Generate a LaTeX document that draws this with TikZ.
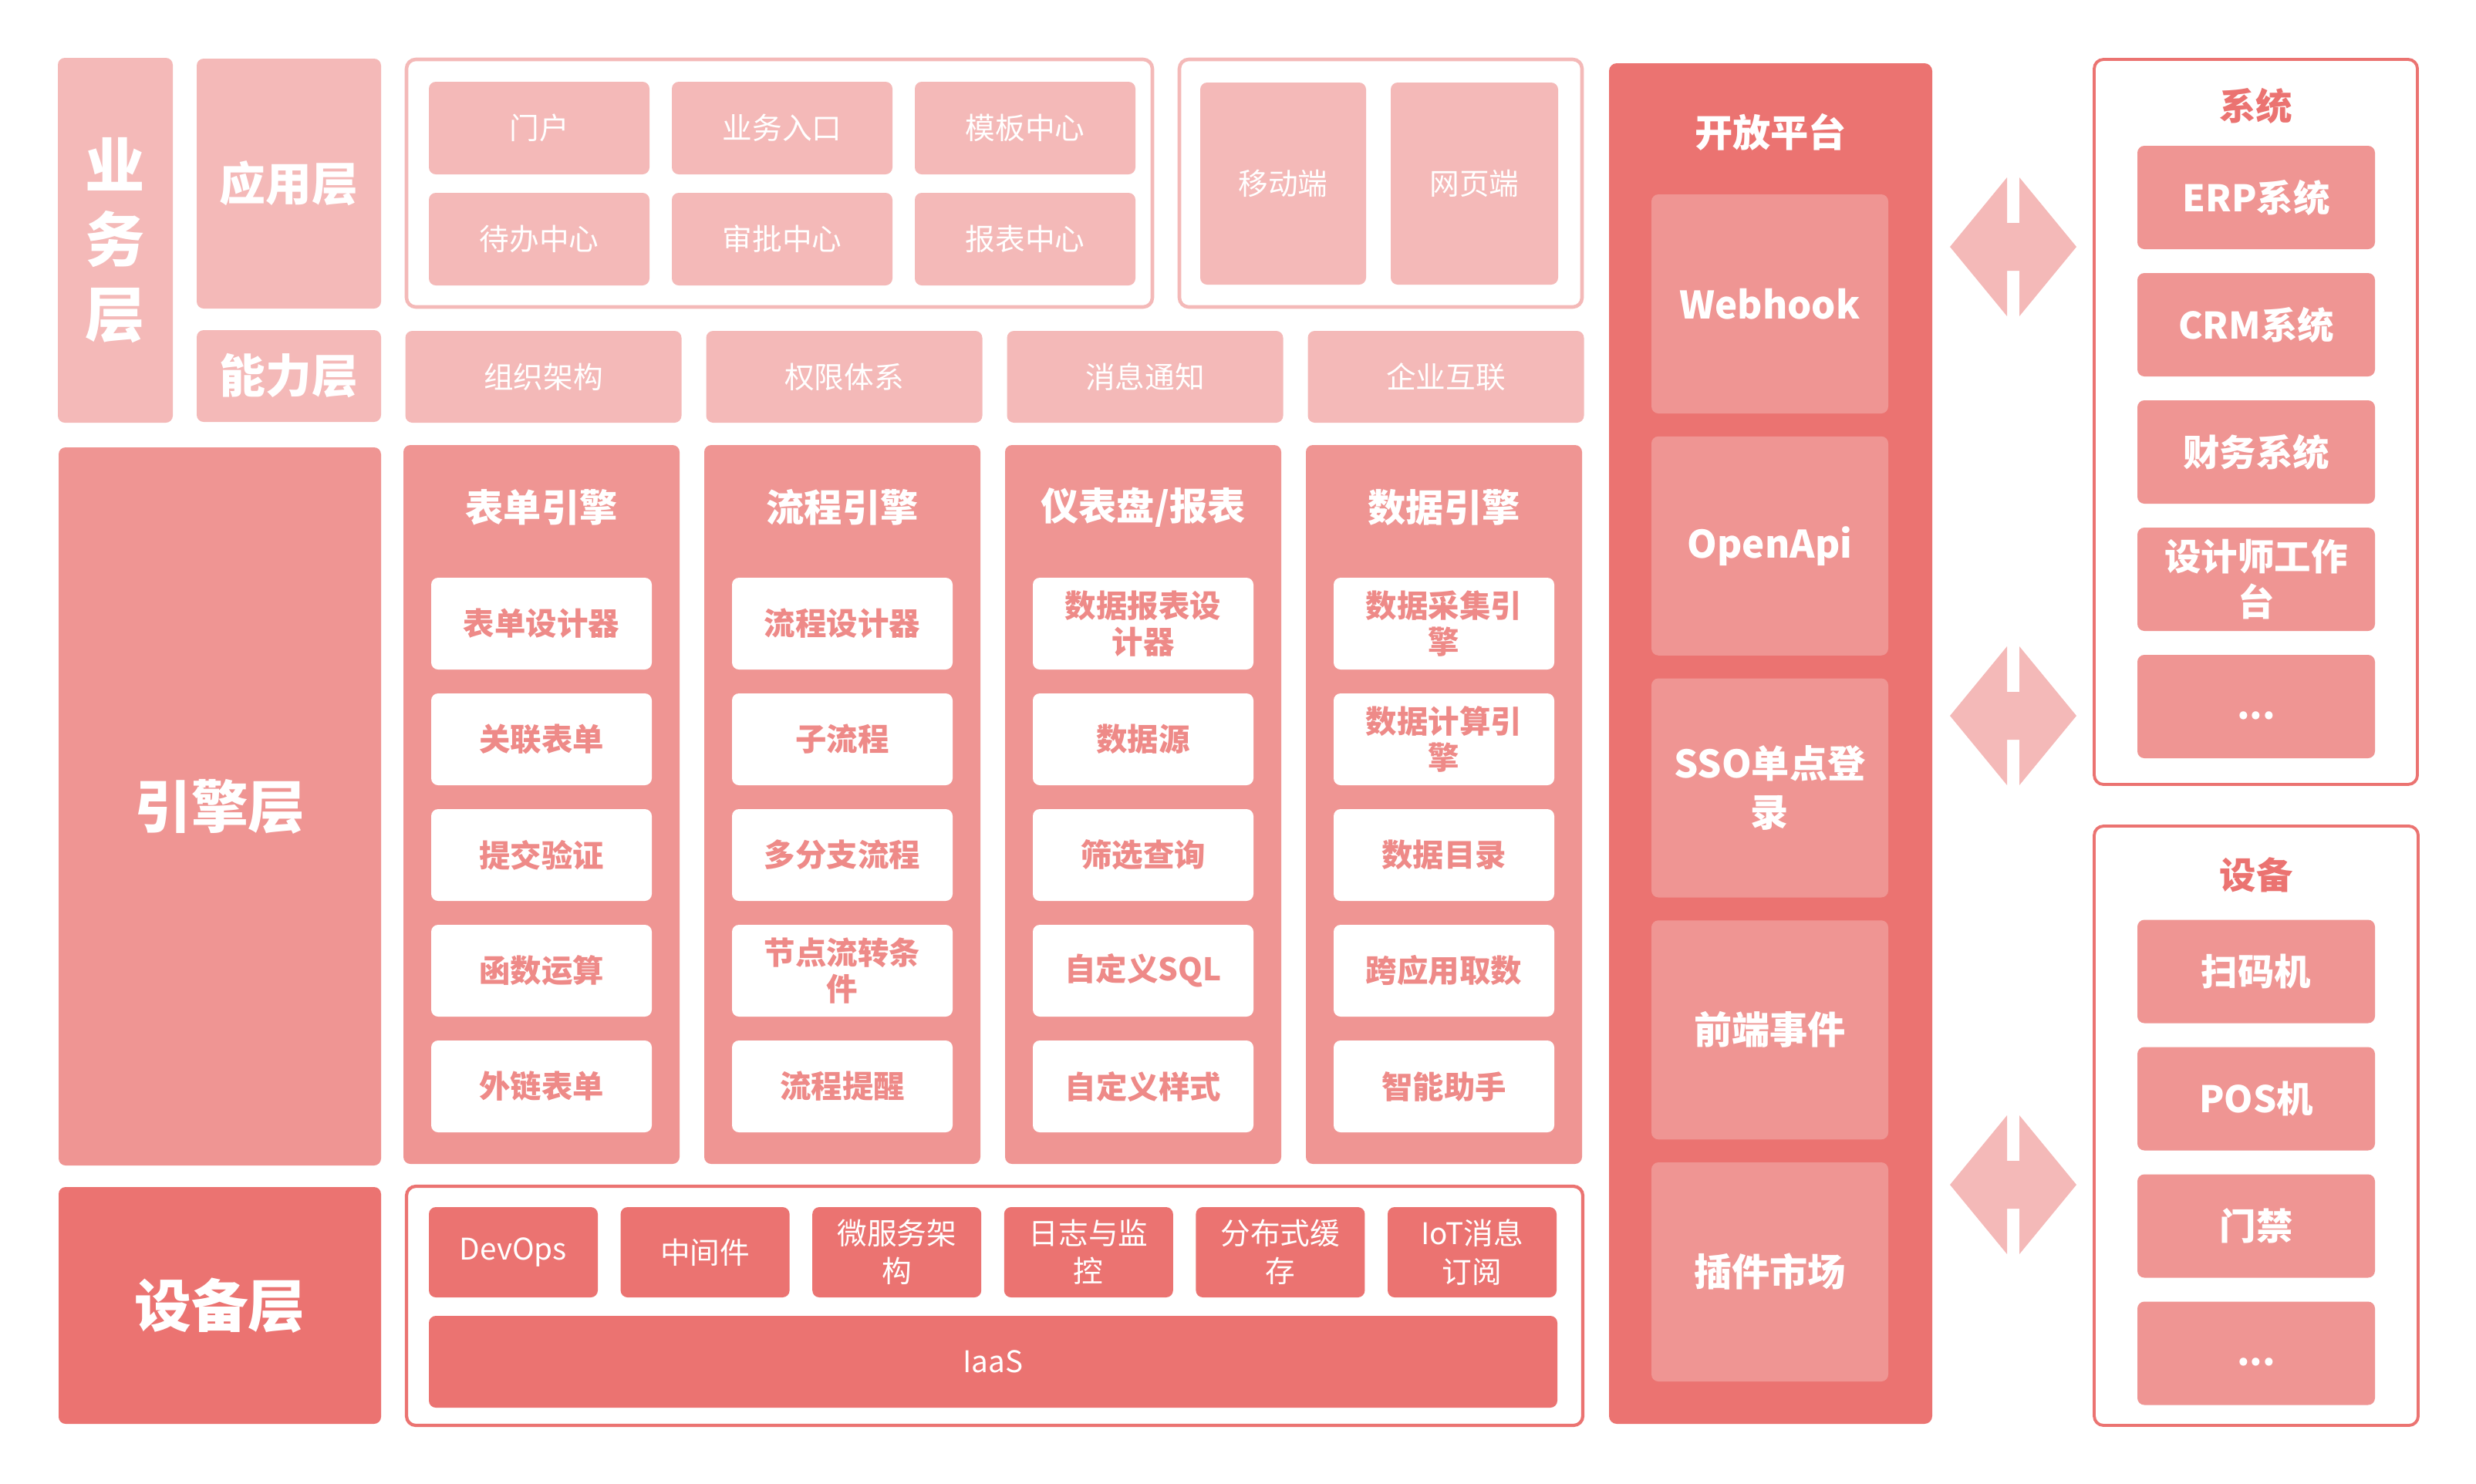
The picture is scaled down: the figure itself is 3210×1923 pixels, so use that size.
\documentclass[tikz,border=0pt]{standalone}
\usepackage{fontspec}
\setmainfont{Noto Sans CJK SC}
\usetikzlibrary{positioning}
\definecolor{pinklt}{HTML}{F4B9B8}
\definecolor{pinkmd}{HTML}{EF9593}
\definecolor{pinkdk}{HTML}{EB7371}
\definecolor{pinktx}{HTML}{EE8A88}
\tikzset{
    block/.style={
           rectangle,
           rounded corners=0.9mm,
           inner sep=0pt,
           align=center,
           text=white
           },
    layer/.style={
           block,
           minimum width=23.9mm,
           font=\bfseries\fontsize{17}{20}\selectfont
           },
    boxframe/.style={
           rectangle,
           rounded corners=1.2mm,
           fill=white,
           inner sep=0pt
           },
    appbox/.style={
           block, fill=pinklt,
           minimum width=28.6mm, minimum height=12mm,
           font=\fontsize{11}{14}\selectfont
           },
    skill/.style={
           block, fill=pinklt,
           minimum width=35.8mm, minimum height=11.9mm,
           font=\fontsize{11}{14}\selectfont
           },
    engcol/.style={
           block, fill=pinkmd,
           minimum width=35.8mm, minimum height=93.2mm
           },
    engtitle/.style={
           inner sep=0pt, text=white,
           font=\bfseries\fontsize{14}{17}\selectfont
           },
    engitem/.style={
           block, fill=white, text=pinktx,
           minimum width=28.6mm, minimum height=11.9mm,
           font=\bfseries\fontsize{11.5}{13.5}\selectfont
           },
    infra/.style={
           block, fill=pinkdk,
           minimum width=21.9mm, minimum height=11.7mm,
           font=\fontsize{11}{14}\selectfont
           },
    openitem/.style={
           block, fill=pinkmd,
           minimum width=30.7mm, minimum height=28.4mm,
           font=\bfseries\fontsize{14}{18}\selectfont
           },
    sysitem/.style={
           block, fill=pinkmd,
           minimum width=30.8mm, minimum height=13.4mm,
           font=\bfseries\fontsize{13.5}{17}\selectfont
           },
    sectitle/.style={
           inner sep=0pt, text=pinkdk,
           font=\bfseries\fontsize{13.5}{17}\selectfont
           },
    pics/twoway/.style={
           code={\fill[pinklt] (-82,0) -- (-8,-90) -- (-8,-31) -- (8,-31) -- (8,-90) -- (82,0)
                 -- (8,90) -- (8,31) -- (-8,31) -- (-8,90) -- cycle;}
           }
}

\begin{document}
\begin{tikzpicture}[x=0.1mm, y=-0.1mm, node distance=15mm, on grid]
   \useasboundingbox (0,0) rectangle (3210,1923);

   % business layer
   \node[layer, fill=pinklt, minimum width=14.9mm, minimum height=47.3mm,
         font=\bfseries\fontsize{22}{27.5}\selectfont] (yw) at (149.5,311.5) {业\\务\\层};
   \node[layer, fill=pinklt, minimum height=32.4mm] (yy) at (374.5,238)   {应用层};
   \node[layer, fill=pinklt, minimum height=11.9mm] (nl) at (374.5,487.5) {能力层};

   \node[boxframe, draw=pinklt, line width=1.3pt, minimum width=96.7mm, minimum height=32.1mm] (af) at (1010.5,237.5) {};
   \node[appbox] (a1) at (699,166)          {门户};
   \node[appbox] (a2) [right=31.5mm of a1]   {业务入口};
   \node[appbox] (a3) [right=31.5mm of a2]   {模板中心};
   \node[appbox] (a4) [below=14.4mm of a1]   {待办中心};
   \node[appbox] (a5) [below=14.4mm of a2]   {审批中心};
   \node[appbox] (a6) [below=14.4mm of a3]   {报表中心};

   \node[boxframe, draw=pinklt, line width=1.3pt, minimum width=52.2mm, minimum height=32.1mm] (mf) at (1790,237.5) {};
   \node[appbox, minimum width=21.5mm, minimum height=26.2mm] (m1) at (1663.5,238) {移动端};
   \node[appbox, minimum width=21.7mm, minimum height=26.2mm] (m2) at (1911.5,238) {网页端};

   \node[skill] (b1) at (704.5,488.5)       {组织架构};
   \node[skill] (b2) [right=39mm of b1]     {权限体系};
   \node[skill] (b3) [right=39mm of b2]     {消息通知};
   \node[skill] (b4) [right=39mm of b3]     {企业互联};

   % engine layer
   \node[layer, fill=pinkmd, minimum width=41.8mm, minimum height=93.1mm,
         font=\bfseries\fontsize{21}{25}\selectfont] (yq) at (285,1045.5) {引擎层};

   \node[engcol] (c1) at (702,1043)         {};
   \node[engcol] (c2) [right=39mm of c1]    {};
   \node[engcol] (c3) [right=39mm of c2]    {};
   \node[engcol] (c4) [right=39mm of c3]    {};
   \node[engtitle] (t1) at (702,658)        {表单引擎};
   \node[engtitle] (t2) [right=39mm of t1]  {流程引擎};
   \node[engtitle] (t3) [right=39mm of t2]  {仪表盘/报表};
   \node[engtitle] (t4) [right=39mm of t3]  {数据引擎};

   \node[engitem] (e11) at (702,808.5)      {表单设计器};
   \node[engitem] (e12) [below=of e11]      {关联表单};
   \node[engitem] (e13) [below=of e12]      {提交验证};
   \node[engitem] (e14) [below=of e13]      {函数运算};
   \node[engitem] (e15) [below=of e14]      {外链表单};

   \node[engitem] (e21) [right=39mm of e11] {流程设计器};
   \node[engitem] (e22) [below=of e21]      {子流程};
   \node[engitem] (e23) [below=of e22]      {多分支流程};
   \node[engitem] (e24) [below=of e23]      {节点流转条\\件};
   \node[engitem] (e25) [below=of e24]      {流程提醒};

   \node[engitem] (e31) [right=39mm of e21] {数据报表设\\计器};
   \node[engitem] (e32) [below=of e31]      {数据源};
   \node[engitem] (e33) [below=of e32]      {筛选查询};
   \node[engitem] (e34) [below=of e33]      {自定义SQL};
   \node[engitem] (e35) [below=of e34]      {自定义样式};

   \node[engitem] (e41) [right=39mm of e31] {数据采集引\\擎};
   \node[engitem] (e42) [below=of e41]      {数据计算引\\擎};
   \node[engitem] (e43) [below=of e42]      {数据目录};
   \node[engitem] (e44) [below=of e43]      {跨应用取数};
   \node[engitem] (e45) [below=of e44]      {智能助手};

   % device layer
   \node[layer, fill=pinkdk, minimum width=41.8mm, minimum height=30.7mm,
         font=\bfseries\fontsize{21}{25}\selectfont] (sb) at (285,1692.5) {设备层};

   \node[boxframe, draw=pinkdk, line width=1.2pt, minimum width=152.5mm, minimum height=31mm] (if) at (1289.5,1693) {};
   \node[infra] (i1) at (665.5,1623.5)      {DevOps};
   \node[infra] (i2) [right=24.86mm of i1]  {中间件};
   \node[infra] (i3) [right=24.86mm of i2]  {微服务架\\构};
   \node[infra] (i4) [right=24.86mm of i3]  {日志与监\\控};
   \node[infra] (i5) [right=24.86mm of i4]  {分布式缓\\存};
   \node[infra] (i6) [right=24.86mm of i5]  {IoT消息\\订阅};
   \node[infra, minimum width=146.3mm, minimum height=11.9mm] (ia) at (1287.5,1765.5) {IaaS};

   % open platform
   \node[block, fill=pinkdk, rounded corners=1mm, minimum width=41.9mm, minimum height=176.4mm] (op) at (2295.5,964) {};
   \node[engtitle] (ot) at (2295.5,171)     {开放平台};
   \node[openitem] (o1) at (2294.5,394)     {Webhook};
   \node[openitem] (o2) [below=31.375mm of o1] {OpenApi};
   \node[openitem] (o3) [below=31.375mm of o2] {SSO单点登\\录};
   \node[openitem] (o4) [below=31.375mm of o3] {前端事件};
   \node[openitem] (o5) [below=31.375mm of o4] {插件市场};

   % systems and devices
   \node[boxframe, draw=pinkdk, line width=1.1pt, minimum width=41.9mm, minimum height=94mm] (sf) at (2924.5,547) {};
   \node[sectitle] (st) at (2924.5,137)     {系统};
   \node[sysitem] (s1) at (2925,256)        {ERP系统};
   \node[sysitem] (s2) [below=16.5mm of s1] {CRM系统};
   \node[sysitem] (s3) [below=16.5mm of s2] {财务系统};
   \node[sysitem] (s4) [below=16.5mm of s3] {设计师工作\\台};
   \node[sysitem] (s5) [below=16.5mm of s4] {\smash{\raisebox{-1.6mm}{...}}};

   \node[boxframe, draw=pinkdk, line width=1.1pt, minimum width=42mm, minimum height=77.7mm] (df) at (2925,1459.5) {};
   \node[sectitle] (dt) at (2925,1134)      {设备};
   \node[sysitem] (d1) at (2925,1259.5)     {扫码机};
   \node[sysitem] (d2) [below=16.5mm of d1] {POS机};
   \node[sysitem] (d3) [below=16.5mm of d2] {门禁};
   \node[sysitem] (d4) [below=16.5mm of d3] {\smash{\raisebox{-1.6mm}{...}}};

   % two-way arrows
   \coordinate (ar1) at (2610,320);
   \coordinate (ar2) at (2610,928);
   \coordinate (ar3) at (2610,1536);
   \pic at (ar1) {twoway};
   \pic at (ar2) {twoway};
   \pic at (ar3) {twoway};
\end{tikzpicture}
\end{document}
